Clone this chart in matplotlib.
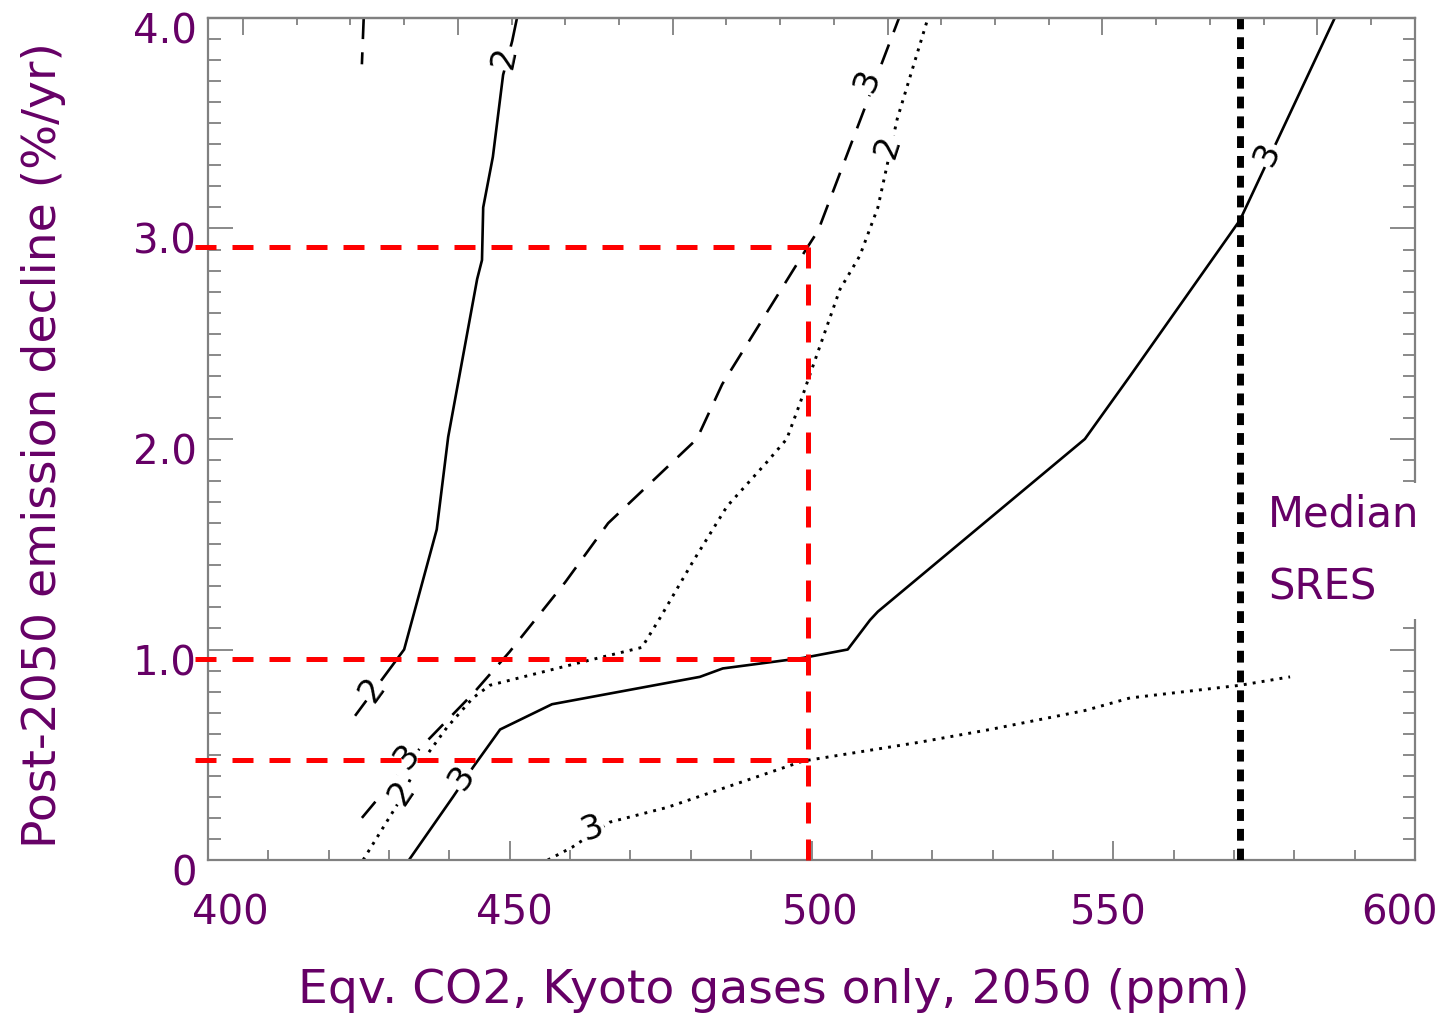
import numpy as np
import matplotlib.pyplot as plt
from matplotlib.ticker import MultipleLocator
from matplotlib.transforms import ScaledTranslation

purple = "#660066"
grey = "#808080"

# 2 and 3 degree curves for three cases (solid, dashed, dotted)
solid2_x = [424.5, 432.5, 437.9, 439.8, 444.6, 445.4, 445.6, 447.2, 448.9, 450.4, 451.2]
solid2_y = [0.69, 1.00, 1.57, 2.01, 2.76, 2.85, 3.10, 3.34, 3.73, 3.89, 4.00]

solid3_x = [433.3, 440.6, 443.9, 448.4, 457.0, 481.5, 485.3, 498.6, 506.0, 509.7, 511.0,
            545.3, 552.8, 571.0, 586.7]
solid3_y = [0.00, 0.30, 0.44, 0.62, 0.74, 0.87, 0.91, 0.96, 1.00, 1.14, 1.18,
            2.00, 2.30, 3.04, 4.00]

dashed2_x = [425.8, 425.5]
dashed2_y = [4.00, 3.78]

dashed3_x = [425.5, 435.1, 443.9, 450.0, 459.2, 466.3, 481.0, 485.2, 499.3, 501.1, 514.5]
dashed3_y = [0.20, 0.53, 0.79, 0.99, 1.32, 1.60, 2.00, 2.26, 2.91, 2.99, 4.00]

dotted2_x = [425.7, 431.3, 434.0, 439.6, 443.9, 446.7, 455.0, 463.3, 471.9, 474.9, 480.4,
             486.0, 492.6, 495.9, 498.1, 499.3, 504.7, 508.0, 511.0, 514.2, 519.3]
dotted2_y = [0.00, 0.26, 0.41, 0.63, 0.77, 0.83, 0.89, 0.95, 1.01, 1.15, 1.42,
             1.68, 1.89, 2.00, 2.17, 2.27, 2.71, 2.87, 3.10, 3.52, 4.00]

dotted3_x = [456.3, 460.3, 466.6, 476.1, 498.6, 518.0, 529.6, 545.3, 552.8, 571.0, 579.3]
dotted3_y = [0.00, 0.06, 0.18, 0.25, 0.47, 0.56, 0.62, 0.71, 0.77, 0.83, 0.87]

# inline contour labels: x, y, text, angle
label_x = [449.2, 427.2, 509.2, 433.0, 512.7, 432.1, 442.1, 463.6, 575.6]
label_y = [3.81, 0.81, 3.70, 0.49, 3.39, 0.32, 0.39, 0.15, 3.35]
label_txt = ["2", "2", "3", "3", "2", "2", "3", "3", "3"]
label_rot = [78, 54, 69, 50, 72, 56, 55, 20, 65]

# red guide lines
target_ppm = 499.5
target_decline = [2.91, 0.957, 0.475]
red_x_start = 397.8
red_y_end = -0.035

sres_median = 571.0

x_ticks = [400, 450, 500, 550, 600]
x_tick_labels = ["400", "450", "500", "550", "600"]
y_ticks = [0, 1, 2, 3, 4]
y_tick_labels = ["0", "1.0", "2.0", "3.0", "4.0"]

fig = plt.figure(figsize=(14.45, 10.19), dpi=100)
ax = fig.add_axes([208 / 1445, 1 - 860 / 1019, 1207 / 1445, 842 / 1019])

ax.plot(solid2_x, solid2_y, color="black", lw=1.9, zorder=2)
ax.plot(solid3_x, solid3_y, color="black", lw=1.9, zorder=2)
ax.plot(dashed2_x, dashed2_y, color="black", lw=1.9, dashes=(8, 5), zorder=2)
ax.plot(dashed3_x, dashed3_y, color="black", lw=1.9, dashes=(8, 5), zorder=2)
ax.plot(dotted2_x, dotted2_y, color="black", lw=2.1, dashes=(1, 2.1), zorder=2)
ax.plot(dotted3_x, dotted3_y, color="black", lw=2.1, dashes=(1, 2.1), zorder=2)

for x, y, t, r in zip(label_x, label_y, label_txt, label_rot):
    ax.text(x, y, t, rotation=r, ha="center", va="center", fontsize=24,
            color="black", zorder=3,
            bbox=dict(boxstyle="square,pad=0.05", fc="white", ec="none"))

ax.axvline(sres_median, color="black", lw=5, dashes=(1.7, 1.15), zorder=4)

for d in target_decline:
    ax.plot([red_x_start, target_ppm], [d, d], color="red", lw=3.6,
            dashes=(4.2, 3.2), zorder=6, clip_on=False)
ax.plot([target_ppm, target_ppm], [max(target_decline), red_y_end], color="red", lw=3.6,
        dashes=(4.2, 3.2), zorder=6, clip_on=False)

ax.set_xlim(400, 600)
ax.set_ylim(0, 4)
ax.set_xticks(x_ticks, x_tick_labels)
ax.xaxis.set_minor_locator(MultipleLocator(10))
ax.set_yticks(y_ticks, y_tick_labels)
ax.yaxis.set_minor_locator(MultipleLocator(0.1))

ax.tick_params(axis="x", which="major", direction="in", length=14, width=1.3, color=grey,
               labelsize=29, labelcolor=purple, pad=24)
ax.tick_params(axis="x", which="minor", direction="in", length=7, width=1.3, color=grey)
ax.tick_params(axis="y", which="major", direction="in", length=18, width=1.3, color=grey,
               labelsize=29, labelcolor=purple, pad=8, right=True)
ax.tick_params(axis="y", which="minor", direction="in", length=9, width=1.3, color=grey,
               right=True)
for lab in ax.get_yticklabels():
    lab.set_transform(lab.get_transform() + ScaledTranslation(0, -0.1, fig.dpi_scale_trans))

# x tick labels sit slightly off their ticks in the original
x_label_shift = [0.22, 0.05, 0.09, -0.05, -0.15]
for lab, dx in zip(ax.get_xticklabels(), x_label_shift):
    lab.set_transform(lab.get_transform() + ScaledTranslation(dx, 0, fig.dpi_scale_trans))

for s in ax.spines.values():
    s.set_color(grey)
    s.set_linewidth(1.6)

# top axis has its own tick spacing in the original
top = ax.twiny()
top.set_xlim(-0.652, 21.82)
top.xaxis.set_major_locator(MultipleLocator(4))
top.xaxis.set_minor_locator(MultipleLocator(1))
top.tick_params(axis="x", which="major", direction="in", length=12, width=1.3, color=grey,
                labeltop=False)
top.tick_params(axis="x", which="minor", direction="in", length=5, width=1.3, color=grey)
for name, s in top.spines.items():
    if name != "top":
        s.set_visible(False)
    s.set_color(grey)
    s.set_linewidth(1.6)

ax.set_xlabel("Eqv. CO2, Kyoto gases only, 2050 (ppm)", fontsize=34, color=purple)
ax.xaxis.set_label_coords(0.469, -0.128)
ax.set_ylabel("Post-2050 emission decline (%/yr)", fontsize=34, color=purple)
ax.yaxis.set_label_coords(-0.118, 0.493)

fig.text(1268 / 1445, 1 - 551 / 1019, "Median\nSRES", fontsize=30, color=purple,
         ha="left", va="center", linespacing=1.95, zorder=10,
         bbox=dict(boxstyle="square,pad=0.25", fc="white", ec="none"))

fig.savefig("out.png", dpi=100)
